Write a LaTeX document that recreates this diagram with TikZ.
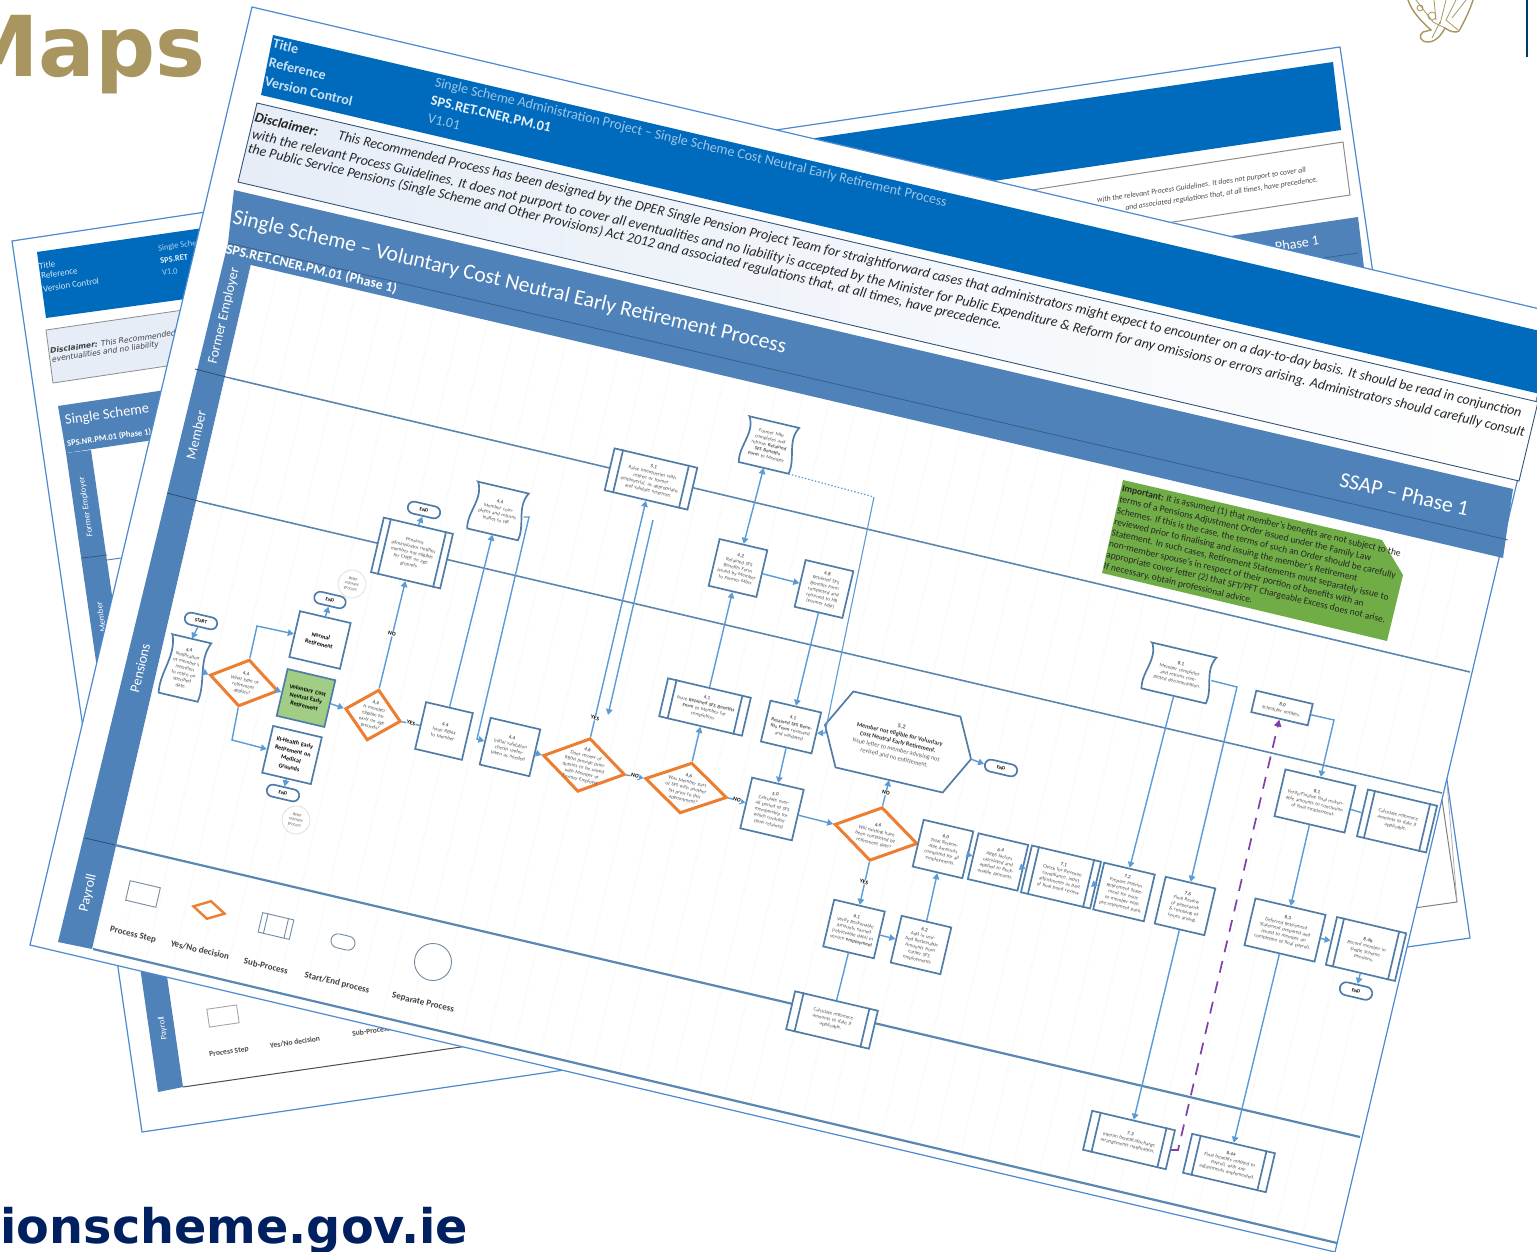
\documentclass[tikz,border=0pt]{standalone}
\usepackage{fontspec}
\setmainfont{Carlito}
\newfontfamily\dvf{DejaVu Sans}
\usetikzlibrary{arrows.meta,calc,shapes.geometric,shapes.misc}
\definecolor{outl}{HTML}{4A8AD0}
\definecolor{bandc}{HTML}{006ABD}
\definecolor{steel}{HTML}{4F82B8}
\definecolor{lanec}{HTML}{5A86B2}
\definecolor{nodec}{HTML}{4F7DA8}
\definecolor{arrowc}{HTML}{5B9BD5}
\definecolor{orangec}{HTML}{ED7D31}
\definecolor{greenc}{HTML}{70AD47}
\definecolor{greenl}{HTML}{A2CD85}
\definecolor{purplec}{HTML}{7E3FA8}
\definecolor{tan}{HTML}{A8955F}
\definecolor{navy}{HTML}{002060}
\definecolor{tinyc}{HTML}{5A5A5A}
\definecolor{paleb}{HTML}{E6EDF7}
\newcommand\tinyf{\fontsize{5.1}{6.1}\selectfont\color{tinyc}}
\newcommand\bfn[1]{\textbf{#1}\\}
\tikzset{
 pageline/.style={draw=outl,line width=1.2pt,fill=white},
 nodeline/.style={draw=nodec,line width=1.7pt},
 tiltbox/.style={nodeline,fill=white,rotate=-13.2,inner sep=0.5pt,align=center,font=\tinyf},
 boxn/.style 2 args={tiltbox,minimum width=#1pt,minimum height=#2pt,text width=#1pt-8pt},
 pill/.style={tiltbox,rounded rectangle,minimum width=34pt,minimum height=12pt,font=\fontsize{4.8}{5.6}\selectfont\bfseries},
 decis/.style 2 args={draw=orangec,line width=3pt,fill=white,diamond,rotate=-13.2,inner sep=0pt,minimum width=#1pt,minimum height=#2pt},
 dtext/.style={rotate=-13.2,align=center,font=\tinyf,inner sep=0pt},
 conn/.style={draw=arrowc,line width=1.4pt,-{Triangle[length=6pt,width=6.5pt]}},
 connb/.style={draw=arrowc,line width=1.4pt,{Triangle[length=6pt,width=6.5pt]}-{Triangle[length=6pt,width=6.5pt]}},
 lnk/.style={draw=arrowc,line width=1.4pt},
 lane/.style={draw=lanec,line width=1.6pt},
 yn/.style={rotate=-13.2,fill=white,inner sep=0.5pt,font=\fontsize{5.6}{6}\selectfont\bfseries},
 lanetxt/.style={white,rotate=76.8,font=\fontsize{14}{16}\selectfont},
 refer/.style={circle,draw=black!12,line width=0.8pt,minimum size=28pt,inner sep=0pt,align=center,rotate=-13.2,font=\fontsize{4.2}{5}\selectfont\color{tinyc}},
 legt/.style={rotate=-13.2,font=\fontsize{9}{10}\selectfont\bfseries,text=black!75},
 legs/.style={draw=black!30!nodec!70,line width=0.9pt,rotate=-13.2,fill=white},
 discl/.style={rotate=-13.2,anchor=west,inner sep=0pt,font=\fontsize{14}{15}\selectfont\itshape,text=black!85},
 hdr/.style={rotate=-13.2,anchor=west,inner sep=0pt,font=\fontsize{14}{16}\selectfont},
}
\newcommand\barsn[1]{%
 \draw[nodeline] ($(#1.north west)!.11!(#1.north east)$) -- ($(#1.south west)!.11!(#1.south east)$);
 \draw[nodeline] ($(#1.north west)!.89!(#1.north east)$) -- ($(#1.south west)!.89!(#1.south east)$);
}
\newcommand\docn[6]{%
 \begin{scope}[shift={(#2,#3)},rotate=-13.2]
 \draw[nodeline,fill=white] (-#4/2,-#5/2) -- (#4/2,-#5/2)
   .. controls (#4/2-9,-#5/6) and (#4/2+4,#5/6) .. (#4/2,#5/2) -- (-#4/2,#5/2)
   .. controls (-#4/2-4,#5/6) and (-#4/2+9,-#5/6) .. cycle;
 \end{scope}
 \node[rotate=-13.2,minimum width=#4pt,minimum height=#5pt,text width=#4pt-12pt,inner sep=0pt,align=center,font=\tinyf] (#1) at (#2,#3) {#6};
}
\begin{document}
\begin{tikzpicture}[x=1pt,y=-1pt]
\useasboundingbox (0,0) rectangle (1537,1252);
\clip (0,0) rectangle (1537,1252);
\fill[white] (0,0) rectangle (1537,1252);

% corner lettering and crest
\node[anchor=base east,inner sep=0pt,text=tan,font=\fontsize{84}{90}\selectfont\dvf\bfseries] (maps) at (206,77) {Maps};
\node[anchor=base east,inner sep=0pt,text=navy,font=\fontsize{47.7}{50}\selectfont\dvf\bfseries] (site) at (468,1243) {ionscheme.gov.ie};
\draw[tan,line width=1.4pt,fill=white] (1408,0) .. controls (1412,12) and (1422,22) .. (1431,30) -- (1423,32) .. controls (1418,35) and (1420,42) .. (1428,42) .. controls (1436,42) and (1442,34) .. (1445,28) .. controls (1450,32) and (1456,33) .. (1459,31) .. controls (1464,22) and (1470,10) .. (1473,0);
\draw[tan,line width=0.8pt] (1416,0) -- (1433,22) -- (1445,28) (1434,0) -- (1436,20) (1446,0) -- (1440,24) (1456,0) -- (1446,20) -- (1458,30) (1466,0) -- (1452,18) (1432,38) -- (1440,22) (1420,8) circle (3pt) (1432,16) circle (4pt);
\draw[draw=black!60!green!60!blue,line width=1.4pt] (1527,0) -- (1527,57);

% right-hand back page
\draw[pageline] (640,150) -- (1340,47) -- (1470,938) -- (900,1020) -- cycle;
\fill[bandc] (700,155) -- (1333,62) -- (1341,130) -- (700,224) -- cycle;
\draw[black!45,line width=1pt,fill=white] (760,232) -- (1343,142) -- (1350,195) -- (760,285) -- cycle;
\node[rotate=8.4,anchor=east,inner sep=0pt,font=\fontsize{7.7}{9}\selectfont\itshape,text=black!70] (rdisca) at (1306,170) {with the relevant Process Guidelines.  It does not purport to cover all};
\node[rotate=8.4,anchor=east,inner sep=0pt,font=\fontsize{7.7}{9}\selectfont\itshape,text=black!70] (rdiscb) at (1318,180) {and associated regulations that, at all times, have precedence.};
\fill[steel] (800,300) -- (1358,217) -- (1364,268) -- (800,350) -- cycle;
\draw[black!30!steel,line width=0.6pt] (800,334) -- (1358,253);
\node[white,rotate=8.4,anchor=east,inner sep=0pt,font=\fontsize{14}{16}\selectfont] (rssap) at (1319,240) {SSAP -- Phase 1};
\draw[black!50,line width=1pt,fill=white] (1364,268) -- (1457,902) -- (1100,952);
\draw[black!35,line width=0.7pt] (1447,783) -- (1457,902);

% left-hand back page
\draw[pageline] (12,241) -- (620,150) -- (700,1050) -- (142,1132) -- cycle;
\fill[bandc] (37,252) -- (300,214) -- (310,282) -- (46,318) -- cycle;
\node[hdr,rotate=21.4,text=white!85!bandc,font=\fontsize{9}{10}\selectfont] (ltitle) at (39,266) {Title};
\node[hdr,rotate=21.4,text=white!85!bandc,font=\fontsize{9}{10}\selectfont] (lref) at (41,276) {Reference};
\node[hdr,rotate=21.4,text=white!85!bandc,font=\fontsize{9}{10}\selectfont] (lver) at (43,289) {Version Control};
\node[hdr,rotate=21.4,text=white!70!bandc,font=\fontsize{8.5}{10}\selectfont] (lsin) at (158,249) {Single Scheme};
\node[hdr,rotate=21.4,text=white!90!bandc,font=\fontsize{8.5}{10}\selectfont\bfseries] (lsps) at (160,261) {SPS.RET};
\node[hdr,rotate=21.4,text=white!70!bandc,font=\fontsize{8.5}{10}\selectfont] (lv) at (162,273) {V1.0};
\draw[black!45,line width=0.8pt,fill=paleb] (46,330) -- (300,293) -- (308,345) -- (53,383) -- cycle;
\node[rotate=8.25,anchor=west,inner sep=0pt,font=\fontsize{7.6}{9}\selectfont\dvf\itshape,text=black!75] (ldisca) at (50,351) {\textbf{Disclaimer:} This Recommended};
\node[rotate=8.25,anchor=west,inner sep=0pt,font=\fontsize{7.6}{9}\selectfont\dvf\itshape,text=black!75] (ldiscb) at (52,360) {eventualities and no liability};
\fill[steel] (58,406) -- (300,370) -- (308,417) -- (66,453) -- cycle;
\node[white,rotate=8.25,anchor=west,inner sep=0pt,font=\fontsize{14.5}{16}\selectfont] (ltit) at (65,421) {Single Scheme};
\node[white,rotate=8.25,anchor=west,inner sep=0pt,font=\fontsize{8.5}{10}\selectfont\bfseries] (lsub) at (67,444) {SPS.NR.PM.01 (Phase 1)};
\fill[steel] (66,453) -- (91,450) -- (183,1087) -- (158,1092) -- cycle;
\node[white,rotate=98.25,font=\fontsize{8.6}{10}\selectfont] (lfe) at (86,507) {Former Employer};
\node[white,rotate=98.25,font=\fontsize{8.6}{10}\selectfont] (lmem) at (101,617) {Member};
\node[white,rotate=98.25,font=\fontsize{8.6}{10}\selectfont] (lpay) at (163,1028) {Payroll};
\draw[black!35!steel,line width=0.7pt] (82,558) -- (107,555);
\draw[lane,line width=1pt] (107,560) -- (200,547);
\draw[black!70,line width=1pt] (183,1087) -- (600,1027);
\draw[black!35,line width=0.9pt,fill=white,rotate around={8.25:(223,1016)}] (208,1007) rectangle (238,1025);
\node[rotate=8.25,font=\fontsize{7.6}{9}\selectfont\bfseries,text=black!70] (lps) at (229,1052) {Process Step};
\node[rotate=8.25,font=\fontsize{7.6}{9}\selectfont\bfseries,text=black!70] (lyn) at (295,1042) {Yes/No decision};
\node[rotate=8.25,font=\fontsize{7.6}{9}\selectfont\bfseries,text=black!70] (lsp) at (371,1031) {Sub-Process};

% front page
\draw[pageline] (252,7) -- (1557,313) -- (1335,1252) -- (30,945) -- cycle;
\fill[bandc] (273,35) -- (1600,345) -- (1600,408) -- (261,95) -- cycle;
\node[hdr,font=\fontsize{14}{15}\selectfont\bfseries,text=white!80!bandc] (title) at (273,43) {Title};
\node[hdr,font=\fontsize{14}{15}\selectfont\bfseries,text=white!80!bandc] (refr) at (269,62) {Reference};
\node[hdr,font=\fontsize{14}{15}\selectfont\bfseries,text=white!80!bandc] (vers) at (265,81) {Version Control};
\node[hdr,text=white!62!bandc] (ftit) at (435,83) {Single Scheme Administration Project -- Single Scheme Cost Neutral Early Retirement Process};
\node[hdr,font=\fontsize{14.2}{15}\selectfont\bfseries,text=white!90!bandc] (fref) at (431,100) {SPS.RET.CNER.PM.01};
\node[hdr,text=white!62!bandc] (fver) at (428,118) {V1.01};
\draw[black!35!steel,line width=0.9pt,left color=paleb,right color=white] (257,103) -- (1538,402) -- (1519,481) -- (238,182) -- cycle;
\node[discl] (dca) at (255,117) {\textbf{Disclaimer:}};
\node[discl] (dcb) at (338,136) {This Recommended Process has been designed by the DPER Single Pension Project Team for straightforward cases that administrators might expect to encounter on a day-to-day basis.  It should be read in conjunction};
\node[discl] (dcc) at (252,135) {with the relevant Process Guidelines.  It does not purport to cover all eventualities and no liability is accepted by the Minister for Public Expenditure \& Reform for any omissions or errors arising.  Administrators should carefully consult};
\node[discl] (dcd) at (248,149) {the Public Service Pensions (Single Scheme and Other Provisions) Act 2012 and associated regulations that, at all times, have precedence.};
% title band and lane column
\fill[steel] (234,190) -- (1513,489) -- (1503,558) -- (251,265) -- (92,949) -- (58,942) -- (228,243) -- cycle;
\draw[black!30!steel,line width=0.7pt] (228,243) -- (1508,540);
\node[hdr,white,font=\fontsize{21.6}{24}\selectfont] (ftitle) at (233,218) {Single Scheme -- Voluntary Cost Neutral Early Retirement Process};
\node[hdr,white,font=\fontsize{13.8}{15}\selectfont\bfseries] (fsub) at (226,249) {SPS.RET.CNER.PM.01 (Phase 1)};
\node[hdr,white,font=\fontsize{21.6}{24}\selectfont] (fssap) at (1340,479) {SSAP -- Phase 1};
\node[lanetxt] (lfe2) at (224,316) {Former Employer};
\node[lanetxt] (lme2) at (196,435) {Member};
\node[lanetxt] (lpe2) at (140,668) {Pensions};
\node[lanetxt] (lpa2) at (88,893) {Payroll};
% faint page grid
\foreach \i in {0,...,46} {\draw[black!4,line width=0.5pt] ({251+26.3*\i},{265+6.17*\i}) -- ({93+26.3*\i},{949+6.17*\i});}
% lane lines
\draw[black!40!steel,line width=0.8pt] (195,369) -- (230,378);
\draw[black!40!steel,line width=0.8pt] (167,493) -- (202,502);
\draw[black!40!steel,line width=0.8pt] (85,838) -- (115,845);
\draw[lane] (230,378) -- (1470,672);
\draw[lane] (202,502) -- (1442,793);
\draw[lane,line width=2.2pt] (115,845) -- (1360,1137);
\draw[lane,line width=2.2pt] (93,949) -- (1337,1243);
% important note
\fill[greenc] (1123,480) -- (1382,540) -- (1403,575) -- (1387,641) -- (1102,573) -- cycle;
\node[rotate=-13.2,anchor=north west,inner sep=0pt,align=left,font=\fontsize{9.5}{11.4}\selectfont,text=black!85] (imp) at (1123,484) {\textbf{Important:}  It is assumed (1) that member's benefits are not subject to the\\terms of a Pensions Adjustment Order issued under the Family Law\\Schemes.  If this is the case, the terms of such an Order should be carefully\\reviewed prior to finalising and issuing the member's Retirement\\Statement.  In such cases, Retirement Statements must separately issue to\\non-member spouse's in respect of their portion of benefits with an\\appropriate cover letter (2) that SFT/PFT Chargeable Excess does not arise.\\If necessary, obtain professional advice.};

% process nodes
\node[pill] (start) at (201,621) {START};
\docn{dnote}{185}{668}{40}{60}{\bfn{4.4}Notification of member's intention to retire on specified date.}
\node[decis={70}{48}] (dtype) at (244,683) {};
\node[dtext,text width=32pt] (dtypet) at (244,683) {\bfn{4.4}What type of retirement applies?};
\node[boxn={52}{47},font=\fontsize{6}{8}\selectfont\bfseries] (norm) at (320,640) {Normal\\Retirement};
\node[pill,minimum width=33pt] (endn) at (330,600) {END};
\node[refer] (refa) at (352,584) {Refer\\relevant\\process.};
\node[boxn={49}{48},fill=greenl,font=\fontsize{6}{8}\selectfont\bfseries] (volc) at (306,698) {Voluntary Cost\\Neutral Early\\Retirement};
\node[boxn={50}{48},font=\fontsize{6}{8.5}\selectfont\bfseries] (ill) at (292,755) {Ill-Health Early\\Retirement on\\Medical\\Grounds};
\node[pill] (endi) at (283,793) {END};
\node[refer] (refb) at (296,820) {Refer\\relevant\\process.};
\node[decis={57}{52}] (dage) at (373,715) {};
\node[dtext,text width=28pt] (daget) at (373,715) {\bfn{4.4}Is member eligible for early on age grounds?};
\node[boxn={71}{56}] (snot) at (412,553) {\parbox{46pt}{\centering\tinyf Pensions administrator notifies member not eligible for CNER on age grounds.}};
\barsn{snot}
\node[pill] (endb) at (424,510) {END};
\docn{dleaf}{498}{511}{52}{48}{\bfn{4.4}Member completes and returns leaflet to HR}
\node[boxn={48}{48}] (issue) at (444,731) {\bfn{4.4}Issue RBIM to Member};
\node[boxn={51}{48}] (valid) at (510,747) {\bfn{4.4}Initial validation checks undertaken as needed};
\node[decis={84}{55}] (drev) at (584,765) {};
\node[dtext,text width=44pt] (drevt) at (584,765) {\bfn{4.6}Does review of RBIM provide prior queries to be raised with Member or Former Employer};
\node[decis={84}{52}] (dpart) at (686,788) {};
\node[dtext,text width=44pt] (dpartt) at (686,788) {\bfn{4.6}Was Member part of SFS with another SH prior to this appointment?};
\node[boxn={85}{43}] (sraise) at (651,479) {\parbox{60pt}{\centering\tinyf\bfn{5.1}Raise interqueries with retiree or former employer(s), as appropriate, and validate response.}};
\barsn{sraise}
\docn{dform}{769}{445}{51}{47}{Former Mbr completes and returns \textbf{Retained SFS Benefits Form} to Member}
\node[boxn={49}{48}] (bissue) at (738,568) {\bfn{4.2}Retained SFS Benefits Form issued by Member to Former Mbrs};
\node[boxn={49}{48}] (bcomp) at (824,589) {\bfn{4.8}Retained SFS Benefits Form completed and returned to HR (Former Mbr)};
\node[boxn={85}{39}] (sret) at (705,707) {\parbox{60pt}{\centering\tinyf\bfn{4.1}Issue \textbf{Retained SFS Benefits Form} to Member for completion.}};
\barsn{sret}
\node[boxn={52}{42}] (brev) at (791,727) {\bfn{4.1}\textbf{Retained SFS Benefits Form} reviewed and validated};
\node[boxn={53}{52}] (bcalc) at (772,809) {\bfn{5.0}Calculate overall period of SFS membership for which contributions retained};
% hexagon
\begin{scope}[shift={(898,742)},rotate=-13.2]
 \draw[nodeline,fill=white] (-75,0) -- (-55,-39) -- (55,-39) -- (75,0) -- (55,39) -- (-55,39) -- cycle;
\end{scope}
\node[rotate=-13.2,minimum width=150pt,minimum height=78pt,inner sep=0pt,align=center,font=\fontsize{6.2}{8}\selectfont\color{tinyc}] (hexn) at (898,742) {\textbf{5.2}\\\textcolor{black!80}{\textbf{Member not eligible for Voluntary}}\\\textcolor{black!80}{\textbf{Cost Neutral Early Retirement.}}\\Issue letter to member advising not\\revised and no entitlement.};
\node[pill] (endh) at (1001,768) {END};
\node[decis={85}{55}] (dwill) at (876,834) {};
\node[dtext,text width=42pt] (dwillt) at (876,834) {\bfn{4.6}Will existing have been completed by retirement date?};
\node[boxn={51}{48}] (total) at (943,849) {\bfn{6.0}Total Reckonable Amounts computed for all employments.};
\node[boxn={51}{47}] (arbs) at (998,862) {\bfn{6.4}ARBS factors calculated and applied to Reckonable Amounts.};
\node[boxn={71}{48}] (chk) at (1061,877) {\parbox{47pt}{\centering\tinyf\bfn{7.1}Check for Revenue compliance, input adjustments as part of final point review.}};
\barsn{chk}
\node[boxn={52}{48}] (prep) at (1124,892) {\bfn{7.2}Prepare Interim Retirement Statement for issue to member with pre-retirement pack.};
\node[boxn={51}{48}] (frev) at (1185,906) {\bfn{7.6}Final Review of paperwork \& resolving of issues arising.};
\node[boxn={52}{48}] (verif) at (854,929) {\bfn{6.1}Verify Reckonable Amounts earned (retrievable data) in service \textbf{employment}};
\node[boxn={51}{48}] (addin) at (921,945) {\bfn{6.2}Add in verified Reckonable Amounts from earlier SFS employments.};
\node[boxn={85}{39}] (scalc) at (832,1020) {\parbox{60pt}{\centering\tinyf Calculate reference amounts to date if applicable.}};
\barsn{scalc}
\docn{dmem}{1179}{673}{66}{47}{\bfn{8.1}Member completes and returns completed documentation.}
\node[boxn={58}{22}] (sched) at (1282,708) {\bfn{8.0}Scheduler notifies.};
\node[boxn={72}{48}] (vfin) at (1315,801) {\bfn{8.1}Verify/Finalise final reckonable amounts to conclusion of final employment.};
\node[boxn={71}{48}] (scalb) at (1397,821) {\parbox{47pt}{\centering\tinyf Calculate reference amounts to date if applicable.}};
\barsn{scalb}
\node[boxn={72}{48}] (defer) at (1285,930) {\bfn{8.3}Deferred Retirement Statement prepared and issued to member on completion of final payroll.};
\node[boxn={71}{49}] (recm) at (1366,949) {\parbox{47pt}{\centering\tinyf\bfn{8.4b}Record member in Single Scheme Pensions.}};
\barsn{recm}
\node[pill,minimum height=13pt] (endr) at (1356,991) {END};
\node[boxn={85}{40}] (sint) at (1129,1140) {\parbox{60pt}{\centering\tinyf\bfn{7.3}Interim benefit/discharge arrangements notification.}};
\barsn{sint}
\node[boxn={85}{40}] (sfin) at (1229,1163) {\parbox{60pt}{\centering\tinyf\bfn{8.4a}Final benefits notified to Payroll, with any adjustments implemented.}};
\barsn{sfin}

% connectors
\coordinate (e1) at (257,626);
\coordinate (e2) at (232,740);
\coordinate (e3) at (529,517);
\coordinate (e4) at (477,739);
\coordinate (e5) at (874,497);
\coordinate (e6) at (825,733);
\coordinate (e7) at (1237,687);
\coordinate (e8) at (1334,720);
\coordinate (e9) at (1178,1150);
\coordinate (f1) at (653,520);
\coordinate (f2) at (608,715);
\draw[conn] (start) -- (dnote.north);
\draw[conn] (dnote.east) -- (dtype.west);
\draw[conn] (dtype.north) -- (e1) -- (norm.west);
\draw[conn] (dtype.east) -- (volc.west);
\draw[conn] (dtype.south) -- (e2) -- (ill.west);
\draw[conn] (norm.north) -- (endn.south);
\draw[conn] (ill.south) -- (endi.north);
\draw[conn] (volc.east) -- (dage.west);
\draw[lnk] (dage.east) -- (issue.west);
\draw[conn] (dage.north) -- (snot.south);
\draw[conn] (snot.north) -- (endb.south);
\draw[conn] (issue.north) -- (dleaf.south);
\draw[conn] (dleaf.east) -- (e3) -- (e4) -- (valid.west);
\draw[conn] (valid.east) -- (drev.west);
\draw[conn] (drev.north) -- (sraise.south);
\draw[conn] (f1) -- (f2);
\draw[conn] (drev.east) -- (dpart.west);
\draw[conn] (dpart.north) -- (sret.south);
\draw[conn] (dpart.east) -- (bcalc.west);
\draw[conn] (sret.north) -- (bissue.south);
\draw[connb] (bissue.north) -- (dform.south);
\draw[conn] (bissue.east) -- (bcomp.west);
\draw[conn] (bcomp.south) -- (brev.north);
\draw[conn] (brev.south) -- (bcalc.north);
\draw[lnk,dotted,line width=1.2pt] (dform.south east) -- (e5);
\draw[conn,line width=1.1pt] (e5) -- (e6) -- (brev.east);
\draw[conn] (bcalc.east) -- (dwill.west);
\draw[conn] (dwill.north) -- (hexn.south);
\draw[conn] (hexn.east) -- (endh.west);
\draw[conn] (dwill.south) -- (verif.north);
\draw[conn] (verif.east) -- (addin.west);
\draw[conn] (addin.north) -- (total.south);
\draw[conn] (total.east) -- (arbs.west);
\draw[conn] (arbs.east) -- (chk.west);
\draw[conn] (chk.east) -- (prep.west);
\draw[lnk] (verif.south) -- (scalc.north);
\draw[conn] (dmem.south) -- (prep.north);
\draw[conn] (dmem.east) -- (e7) -- (frev.north);
\draw[conn] (frev.south) -- (sint.north);
\draw[conn] (sched.east) -- (e8) -- (vfin.north);
\draw[conn] (vfin.south) -- (defer.north);
\draw[lnk] (vfin.east) -- (scalb.west);
\draw[conn] (defer.east) -- (recm.west);
\draw[conn] (recm.south) -- (endr.north);
\draw[conn] (defer.south) -- (sfin.north);
\draw[draw=purplec,line width=1.7pt,dash pattern=on 12pt off 9pt,-{Triangle[length=7pt,width=7pt]}] (sint.east) -- (e9) -- (sched.south);
% yes/no labels
\node[yn] (y1) at (411,723) {YES};
\node[yn] (n1) at (392,634) {NO};
\node[yn] (y2) at (595,718) {YES};
\node[yn] (n2) at (635,776) {NO};
\node[yn] (n3) at (737,800) {NO};
\node[yn] (n4) at (886,793) {NO};
\node[yn] (y3) at (864,882) {YES};

% legend
\node[legs,minimum width=31pt,minimum height=20pt] (lg1) at (143,894) {};
\node[diamond,draw=orangec,line width=2.4pt,fill=white,rotate=-13.2,minimum width=33pt,minimum height=19pt,inner sep=0pt] (lg2) at (209,910) {};
\node[legs,minimum width=32pt,minimum height=20pt] (lg3) at (276,926) {};
\draw[legs] ($(lg3.north west)!.18!(lg3.north east)$) -- ($(lg3.south west)!.18!(lg3.south east)$);
\draw[legs] ($(lg3.north west)!.82!(lg3.north east)$) -- ($(lg3.south west)!.82!(lg3.south east)$);
\node[legs,rounded rectangle,minimum width=31pt,minimum height=14pt] (lg4) at (343,942) {};
\node[legs,circle,minimum size=37pt] (lg5) at (433,962) {};
\node[legt] (lt1) at (133,935) {Process Step};
\node[legt] (lt2) at (200,950) {Yes/No decision};
\node[legt] (lt3) at (266,966) {Sub-Process};
\node[legt] (lt4) at (337,983) {Start/End process};
\node[legt] (lt5) at (423,1003) {Separate Process};
\end{tikzpicture}
\end{document}
